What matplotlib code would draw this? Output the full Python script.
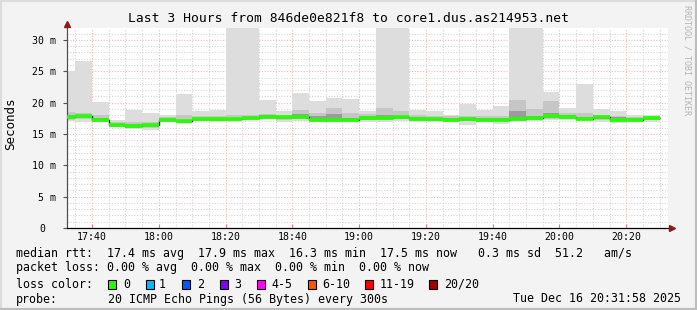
import numpy as np
import matplotlib
matplotlib.use("Agg")
import matplotlib.pyplot as plt
from matplotlib.patches import Rectangle
from matplotlib.lines import Line2D
from matplotlib.transforms import ScaledTranslation

# 5 minute rounds, minutes after 17:00 (start of each round)
bar_start = np.arange(30, 210, 5)

median = [17.7, 17.8, 17.3, 16.4, 16.3, 16.4, 17.3, 17.0, 17.35, 17.4,
          17.4, 17.55, 17.75, 17.7, 17.7, 17.3, 17.3, 17.25, 17.5, 17.55,
          17.65, 17.4, 17.4, 17.25, 17.35, 17.25, 17.3, 17.4, 17.55, 17.85,
          17.75, 17.45, 17.65, 17.3, 17.25, 17.5]
ping_max = [25.0, 26.7, 20.1, 17.3, 18.9, 18.3, 18.0, 21.4, 18.6, 18.9,
            40.0, 40.0, 20.4, 18.7, 21.5, 20.3, 20.7, 20.6, 18.7, 40.0,
            40.0, 18.9, 18.7, 18.1, 19.8, 18.9, 19.5, 40.0, 40.0, 21.7,
            19.2, 22.9, 19.0, 18.7, 18.1, 18.1]
ping_min = [17.05, 16.95, 17.0, 16.15, 15.85, 15.6, 16.85, 16.6, 17.0, 16.85,
            16.95, 17.2, 17.35, 16.85, 17.0, 17.0, 16.95, 16.9, 16.95, 16.85,
            17.1, 16.95, 16.85, 16.95, 16.5, 16.85, 16.65, 16.95, 17.1, 17.15,
            17.25, 17.2, 16.85, 16.7, 16.85, 16.95]
mid_hi = [18.5, 18.3, 18.0, 16.9, 16.9, 16.9, 17.7, 18.1, 17.8, 17.9,
          18.1, 18.0, 18.2, 18.0, 18.9, 18.4, 19.1, 18.3, 18.2, 19.1,
          18.6, 18.0, 17.9, 17.8, 17.9, 17.9, 17.9, 20.4, 19.0, 20.3,
          18.3, 18.4, 18.1, 17.8, 17.7, 17.9]
mid_lo = [17.3, 17.4, 17.1, 16.2, 16.0, 16.0, 17.05, 16.8, 17.15, 17.1,
          17.15, 17.35, 17.5, 17.3, 17.4, 17.1, 17.1, 17.05, 17.2, 17.2,
          17.35, 17.15, 17.1, 17.05, 17.0, 17.05, 17.0, 17.15, 17.3, 17.45,
          17.5, 17.3, 17.3, 17.0, 17.05, 17.2]
dark_hi = [18.0, 18.05, 17.55, 16.6, 16.55, 16.6, 17.5, 17.3, 17.55, 17.6,
           17.6, 17.75, 17.95, 17.85, 18.2, 17.8, 18.2, 17.6, 17.8, 18.0,
           17.9, 17.65, 17.55, 17.5, 17.55, 17.5, 17.55, 18.6, 17.9, 18.4,
           18.0, 17.7, 17.85, 17.75, 17.6, 17.7]
dark_lo = [17.55, 17.65, 17.2, 16.3, 16.2, 16.25, 17.2, 16.9, 17.25, 17.25,
           17.3, 17.45, 17.65, 17.55, 17.55, 17.2, 17.2, 17.15, 17.35, 17.4,
           17.5, 17.3, 17.25, 17.15, 17.2, 17.15, 17.2, 17.3, 17.45, 17.65,
           17.6, 17.35, 17.45, 17.15, 17.15, 17.35]

xtick_pos = [40, 60, 80, 100, 120, 140, 160, 180, 200]
xtick_labels = ["17:40", "18:00", "18:20", "18:40", "19:00",
                "19:20", "19:40", "20:00", "20:20"]
ytick_pos = [0, 5, 10, 15, 20, 25, 30]
ytick_labels = ["0", "5 m", "10 m", "15 m", "20 m", "25 m", "30 m"]

loss_labels = ["0", "1", "2", "3", "4-5", "6-10", "11-19", "20/20"]
loss_colors = ["#26ff00", "#00b8ff", "#0059ff", "#7e00ff",
               "#ff00ff", "#ff5500", "#ff0000", "#a10000"]

W, H = 697, 310
MONO = "DejaVu Sans Mono"


def fx(x):
    return x / W


def fy(y):
    return 1 - y / H


fig = plt.figure(figsize=(W / 100, H / 100), dpi=100)
fig.patch.set_facecolor("#f3f3f3")

left, right, top, bottom = 67, 668, 28, 228
ax = fig.add_axes([fx(left), fy(bottom), fx(right - left), (bottom - top) / H])
ax.set_facecolor("white")
ax.set_xlim(32.5, 212.5)
ax.set_ylim(0, 31.9)

# smoke
ax.bar(bar_start, np.array(ping_max) - np.array(ping_min), bottom=ping_min,
       width=5, align="edge", color="#dddddd", linewidth=0, zorder=2)
ax.bar(bar_start, np.array(mid_hi) - np.array(mid_lo), bottom=mid_lo,
       width=5, align="edge", color="#c6c6c6", linewidth=0, zorder=2)
ax.bar(bar_start, np.array(dark_hi) - np.array(dark_lo), bottom=dark_lo,
       width=5, align="edge", color="#9c9c9c", linewidth=0, zorder=2)

# median line
edges = np.append(bar_start, bar_start[-1] + 5)
ax.stairs(median, edges, baseline=None, color="#202020", lw=1.0, zorder=3)
ax.hlines(median, bar_start, bar_start + 5, color=loss_colors[0], lw=2.6, zorder=4)

# grid
dots = (0, (1, 1.5))
for v in np.arange(35, 212, 5):
    c = "#f4b8b8" if v in xtick_pos else "#d6d6d6"
    ax.axvline(v, color=c, lw=0.8, ls=dots, zorder=1)
for v in np.arange(1, 32, 1):
    c = "#f4b8b8" if v % 5 == 0 else "#d6d6d6"
    ax.axhline(v, color=c, lw=0.8, ls=dots, zorder=1)

ax.spines["top"].set_visible(False)
ax.spines["right"].set_visible(False)
ax.spines["left"].set_color("#505050")
ax.spines["bottom"].set_color("black")
ax.spines["left"].set_linewidth(0.9)
ax.spines["bottom"].set_linewidth(0.9)

ax.set_xticks(xtick_pos)
ax.set_xticklabels(xtick_labels, fontfamily=MONO, fontsize=7.1)
ax.set_yticks(ytick_pos)
ax.set_yticklabels(ytick_labels, fontfamily=MONO, fontsize=7.1)
ax.tick_params(axis="x", length=3, color="#e08080", pad=3, direction="in")
ax.tick_params(axis="y", length=3, color="#505050", pad=5, direction="out")
zero_lab = ax.get_yticklabels()[0]
zero_lab.set_transform(zero_lab.get_transform()
                       + ScaledTranslation(-0.11, 0, fig.dpi_scale_trans))

# axis arrows
ax.plot([0], [1.02], marker="^", color="#8b1a1a", markersize=4,
        transform=ax.transAxes, clip_on=False)
ax.plot([1.006], [0], marker=">", color="#8b1a1a", markersize=4,
        transform=ax.transAxes, clip_on=False)

# texts
fig.text(fx(348), fy(19), "Last 3 Hours from 846de0e821f8 to core1.dus.as214953.net",
         ha="center", va="center", fontfamily=MONO, fontsize=9.4)
fig.text(fx(11), fy(124), "Seconds", rotation=90, ha="center", va="center",
         fontfamily=MONO, fontsize=9.0)
fig.text(fx(687), fy(60), "RRDTOOL / TOBI OETIKER", rotation=-90, ha="center",
         va="center", fontfamily=MONO, fontsize=6.0, color="#b4b4b4")

fs = 8.4
fig.text(fx(16), fy(253),
         "median rtt:  17.4 ms avg  17.9 ms max  16.3 ms min  17.5 ms now   0.3 ms sd  51.2   am/s",
         ha="left", va="center", fontfamily=MONO, fontsize=fs)
fig.text(fx(16), fy(268),
         "packet loss: 0.00 % avg  0.00 % max  0.00 % min  0.00 % now",
         ha="left", va="center", fontfamily=MONO, fontsize=fs)
fig.text(fx(16), fy(284), "loss color:", ha="left", va="center",
         fontfamily=MONO, fontsize=fs)
fig.text(fx(16), fy(299), "probe:", ha="left", va="center",
         fontfamily=MONO, fontsize=fs)
fig.text(fx(107.5), fy(299), "20 ICMP Echo Pings (56 Bytes) every 300s",
         ha="left", va="center", fontfamily=MONO, fontsize=fs)
fig.text(fx(681), fy(299), "Tue Dec 16 20:31:58 2025", ha="right",
         va="center", fontfamily=MONO, fontsize=fs)

box_x = [108, 146, 182, 220, 257, 308, 365, 429]
text_x = [123, 159, 197, 234, 271, 322, 380, 444]
for bx, tx, lab, col in zip(box_x, text_x, loss_labels, loss_colors):
    fig.patches.append(Rectangle((fx(bx), fy(289)), 8 / W, 9 / H,
                                 transform=fig.transFigure, facecolor=col,
                                 edgecolor="black", linewidth=0.8))
    fig.text(fx(tx), fy(284), lab, ha="left", va="center",
             fontfamily=MONO, fontsize=fs)

# 3d-ish frame
fig.lines.append(Line2D([0, 0, 1], [0, 1, 1], transform=fig.transFigure,
                        color="#dcdcdc", lw=3))
fig.lines.append(Line2D([0, 1, 1], [0, 0, 1], transform=fig.transFigure,
                        color="#bdbdbd", lw=3))

fig.savefig("out.png", dpi=100, facecolor=fig.get_facecolor())
